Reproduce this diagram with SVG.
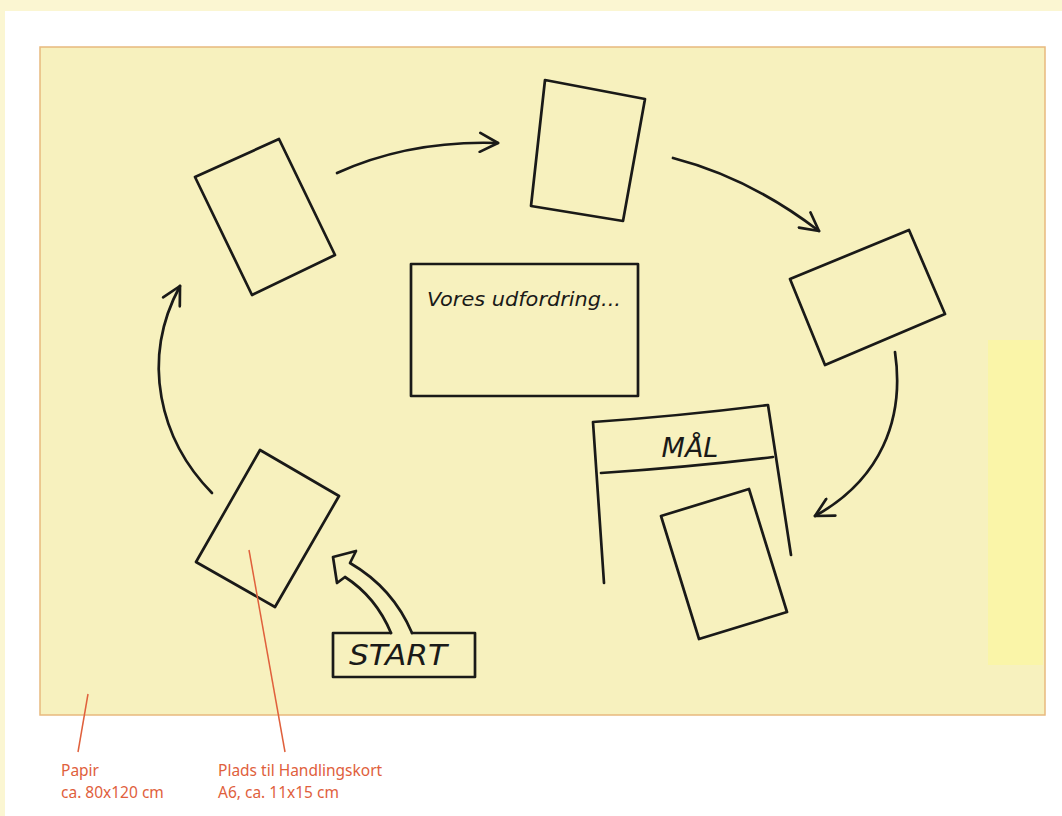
<svg xmlns="http://www.w3.org/2000/svg" width="1062" height="816" viewBox="0 0 1062 816">
<style>
.ink{fill:none;stroke:#1a1a18;stroke-width:2.7;stroke-linejoin:round;stroke-linecap:round}
.hand{font-family:"DejaVu Sans","Liberation Sans",sans-serif;font-style:italic;fill:#1a1a18}
.lead{stroke:#e0603c;stroke-width:1.5;fill:none}
.note{font-family:"Noto Sans","Open Sans",sans-serif;font-size:15.5px;fill:#e0603c}
</style>
<defs>
<marker id="open" viewBox="0 0 22 22" refX="20" refY="11" markerWidth="22" markerHeight="22" markerUnits="userSpaceOnUse" orient="auto">
<path d="M2,1.5 L20,11 L2,20.5" fill="none" stroke="#1a1a18" stroke-width="2.7" stroke-linecap="round" stroke-linejoin="round"/>
</marker>
</defs>
<rect x="0" y="0" width="1062" height="816" fill="#fbf6d2"/>
<rect x="5" y="11" width="1057" height="805" fill="#ffffff"/>
<rect id="paper" x="40" y="47" width="1005" height="668" fill="#f7f1be" stroke="#e8b97e" stroke-width="1.5"/>
<rect x="988" y="340" width="55" height="325" fill="#faf5a8"/>

<g id="card-topleft"><polygon class="ink" points="195,177 279,139 335,255 252,295"/></g>
<g id="card-top"><polygon class="ink" points="545,80 645,99 623,221 531,206"/></g>
<g id="card-right"><polygon class="ink" points="790,279 909,230 945,314 825,365"/></g>
<g id="card-bottomleft"><polygon class="ink" points="260,450 339,496 275,607 196,562"/></g>

<g id="challenge">
<rect class="ink" x="411" y="264" width="227" height="132"/>
<text class="hand" x="427" y="306" font-size="20" textLength="194" lengthAdjust="spacingAndGlyphs">Vores udfordring...</text>
</g>

<g id="goal">
<path class="ink" d="M604,583 L593,422 Q680,416 768,405 L791,555"/>
<path class="ink" d="M601,473 Q690,467 773,457"/>
<text class="hand" x="690" y="457" font-size="27" text-anchor="middle">MÅL</text>
<polygon class="ink" points="661,516 749,489 787,612 699,639"/>
</g>

<g id="start">
<path class="ink" d="M391,633 L333,633 L333,677 L475,677 L475,633 L412,633"/>
<text class="hand" x="398" y="665" font-size="29" text-anchor="middle" textLength="98" lengthAdjust="spacingAndGlyphs">START</text>
<path class="ink" stroke-width="2.3" d="M391,633 Q376,597 345,577 L337,583 L333,557 L356,551 L350,563 Q393,588 412,633"/>
</g>

<g id="connectors">
<path class="ink" d="M337,173 Q410,140 498,143" marker-end="url(#open)"/>
<path class="ink" d="M673,158 Q750,178 819,231" marker-end="url(#open)"/>
<path class="ink" d="M895,352 C905,420 880,480 815,516" marker-end="url(#open)"/>
<path class="ink" d="M212,493 C160,440 140,360 180,286" marker-end="url(#open)"/>
</g>

<g id="annotations">
<line class="lead" x1="88" y1="694" x2="78" y2="752"/>
<line class="lead" x1="249" y1="550" x2="285" y2="752"/>
<text class="note" x="61" y="776">Papir</text>
<text class="note" x="61" y="798">ca. 80x120 cm</text>
<text class="note" x="218" y="776">Plads til Handlingskort</text>
<text class="note" x="218" y="798">A6, ca. 11x15 cm</text>
</g>
</svg>
